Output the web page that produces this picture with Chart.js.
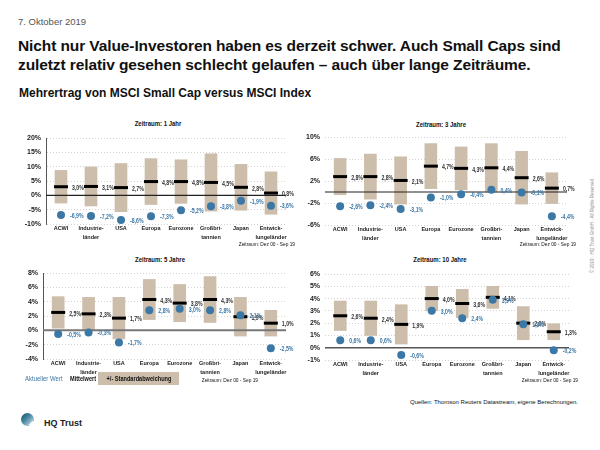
<!DOCTYPE html>
<html>
<head>
<meta charset="utf-8">
<script src="https://cdn.jsdelivr.net/npm/chart.js@4"></script>
<style>
  body { margin: 0; width: 600px; height: 450px; background: #fff; position: relative; overflow: hidden;
         font-family: "Liberation Sans", Arial, sans-serif; color: #111; }
  .t { position: absolute; white-space: nowrap; line-height: 1; }
  .n { transform: scaleX(0.8); transform-origin: left center; }
  .c { transform: translateX(-50%) scaleX(0.8); transform-origin: center center; }
  .r { transform: translateX(-100%) scaleX(0.8); transform-origin: right center; }
  .panel { position: absolute; }
</style>
</head>
<body>
<div class="t" style="left:18px;top:17px;font-size:9.5px;color:#555;">7. Oktober 2019</div>
<div class="t" style="left:18px;top:36px;font-size:15.5px;font-weight:bold;line-height:19px;letter-spacing:-0.1px;">Nicht nur Value-Investoren haben es derzeit schwer. Auch Small Caps sind<br>zuletzt relativ gesehen schlecht gelaufen – auch über lange Zeiträume.</div>
<div class="t" style="left:19px;top:87px;font-size:12px;font-weight:bold;">Mehrertrag von MSCI Small Cap versus MSCI Index</div>

<div class="t c" style="left:158px;top:120px;font-size:7.5px;font-weight:bold;">Zeitraum: 1 Jahr</div>
<div class="t c" style="left:441px;top:121px;font-size:7.5px;font-weight:bold;">Zeitraum: 3 Jahre</div>
<div class="t c" style="left:160px;top:256px;font-size:7.5px;font-weight:bold;">Zeitraum: 5 Jahre</div>
<div class="t c" style="left:440px;top:256px;font-size:7.5px;font-weight:bold;">Zeitraum: 10 Jahre</div>

<div class="panel" style="left:0;top:128px;"><canvas id="p1" width="300" height="120"></canvas></div>
<div class="panel" style="left:300px;top:127px;"><canvas id="p2" width="300" height="122"></canvas></div>
<div class="panel" style="left:0;top:263px;"><canvas id="p3" width="300" height="120"></canvas></div>
<div class="panel" style="left:300px;top:264px;"><canvas id="p4" width="300" height="120"></canvas></div>

<div class="t r" style="left:295px;top:241px;font-size:6px;">Zeitraum: Dez 00 - Sep 19</div>
<div class="t r" style="left:576px;top:241px;font-size:6px;">Zeitraum: Dez 00 - Sep 19</div>
<div class="t r" style="left:258px;top:377px;font-size:6px;">Zeitraum: Dez 00 - Sep 19</div>
<div class="t r" style="left:578px;top:377px;font-size:6px;">Zeitraum: Dez 00 - Sep 19</div>

<div class="t n" style="left:25px;top:375px;font-size:7.5px;color:#3c78a6;">Aktueller Wert</div>
<div class="t n" style="left:70px;top:375px;font-size:7px;font-weight:bold;">Mittelwert</div>
<div style="position:absolute;left:98px;top:372px;width:81px;height:13px;background:#cdbdab;"></div>
<div class="t c" style="left:139px;top:375px;font-size:7px;font-weight:bold;">+/- Standardabweichung</div>

<div class="t" style="left:578px;top:399px;font-size:6px;transform:translateX(-100%);">Quellen: Thomson Reuters Datastream, eigene Berechnungen.</div>

<div style="position:absolute;left:21px;top:413px;width:13px;height:13px;border-radius:50%;background:linear-gradient(135deg,#0d4a66 0%,#4d8aa3 45%,#e8f0f3 100%);"></div>
<div style="position:absolute;left:30px;top:422px;width:5px;height:5px;background:#fff;transform:rotate(45deg);"></div>
<div class="t" style="left:44px;top:419px;font-size:9px;font-weight:bold;color:#222;">HQ Trust</div>

<div class="t" style="left:593px;top:226px;font-size:4.5px;color:#888;transform:translate(-50%,-50%) rotate(-90deg);">© 2019 · HQ Trust GmbH · All Rights Reserved</div>

<script>
const categories = [["ACWI"], ["Industrie-", "länder"], ["USA"], ["Europa"], ["Eurozone"], ["Großbri-", "tannien"], ["Japan"], ["Entwick-", "lungeländer"]];

// Zeitraum 1 Jahr
const mean1 = [3.0, 3.1, 2.7, 4.8, 4.8, 4.5, 2.8, 0.8];
const sd1 = [5.7, 6.8, 8.4, 8.0, 7.6, 10.0, 8.0, 7.4];
const current1 = [-6.9, -7.2, -8.6, -7.3, -5.2, -3.8, -1.9, -3.6];

// Zeitraum 3 Jahre
const mean3 = [2.8, 2.8, 2.1, 4.7, 4.3, 4.4, 2.6, 0.7];
const sd3 = [3.3, 4.1, 4.3, 4.1, 3.9, 4.4, 4.8, 2.8];
const current3 = [-2.6, -2.4, -3.1, -1.0, -0.4, 0.4, -0.1, -4.4];

// Zeitraum 5 Jahre
const mean5 = [2.5, 2.3, 1.7, 4.3, 3.8, 4.3, 1.9, 1.0];
const sd5 = [2.2, 2.3, 2.9, 2.8, 2.6, 3.2, 2.7, 1.8];
const current5 = [-0.5, -0.3, -1.7, 2.8, 3.0, 2.8, 2.1, -2.5];

// Zeitraum 10 Jahre
const mean10 = [2.6, 2.4, 1.9, 4.0, 3.6, 4.1, 2.0, 1.3];
const sd10 = [1.2, 1.4, 1.6, 1.0, 1.15, 0.9, 1.35, 0.65];
const current10 = [0.6, 0.6, -0.6, 3.0, 2.4, 3.9, 1.9, -0.2];

const FONT = "'Liberation Sans', Arial, sans-serif";
const TAN = "#cdbdab";
const BLUE = "#3c78a6";

const fmt = v => (v < 0 ? "-" : "") + Math.abs(v).toFixed(1).replace(".", ",") + "%";

// zero line above the boxes, value labels next to the marks
const panelMarks = {
  id: "panelMarks",
  afterDatasetDraw(chart, args, opts) {
    if (args.meta.type !== "bar") return;
    const { ctx, chartArea, scales } = chart;
    const y0 = scales.y.getPixelForValue(0);
    ctx.save();
    ctx.strokeStyle = opts.zeroColor;
    ctx.lineWidth = opts.zeroWidth;
    ctx.beginPath();
    ctx.moveTo(chartArea.left, y0);
    ctx.lineTo(chartArea.right, y0);
    ctx.stroke();
    ctx.restore();
  },
  afterDatasetsDraw(chart) {
    const ctx = chart.ctx;
    const draw = (txt, x, y, color) => {
      ctx.save();
      ctx.translate(x, y);
      ctx.scale(0.8, 1);
      ctx.fillStyle = color;
      ctx.fillText(txt, 0, 0);
      ctx.restore();
    };
    ctx.save();
    ctx.font = "bold 6.5px " + FONT;
    ctx.textBaseline = "middle";
    ctx.textAlign = "left";
    chart.getDatasetMeta(1).data.forEach((pt, i) => {
      draw(fmt(chart.data.datasets[1].data[i]), pt.x + 11, pt.y + 1.5, "#333");
    });
    chart.getDatasetMeta(2).data.forEach((pt, i) => {
      draw(fmt(chart.data.datasets[2].data[i]), pt.x + 9, pt.y + 1, BLUE);
    });
    ctx.restore();
  }
};

function makePanel(id, means, sds, current, yMin, yMax, yStep, pad, yWidth, leftBorder, zeroColor, zeroWidth) {
  return new Chart(document.getElementById(id), {
    type: "bar",
    data: {
      labels: categories,
      datasets: [
        {
          type: "bar",
          data: means.map((m, i) => [m - sds[i], m + sds[i]]),
          backgroundColor: TAN,
          barThickness: 12,
          order: 3
        },
        {
          type: "line",
          data: means,
          showLine: false,
          pointStyle: "line",
          pointRadius: 7,
          pointBorderWidth: 3,
          pointBorderColor: "#000",
          order: 2
        },
        {
          type: "line",
          data: current,
          showLine: false,
          pointStyle: "circle",
          pointRadius: 4,
          pointBorderWidth: 0,
          pointBackgroundColor: BLUE,
          order: 1
        }
      ]
    },
    options: {
      responsive: false,
      animation: false,
      layout: { padding: pad },
      plugins: {
        legend: { display: false },
        tooltip: { enabled: false },
        panelMarks: { zeroColor, zeroWidth }
      },
      scales: {
        x: {
          offset: true,
          grid: { display: false, drawTicks: false },
          border: { display: false },
          afterFit: s => { s.height = 24; },
          ticks: {
            autoSkip: false,
            maxRotation: 0,
            padding: 0,
            color: "#222",
            font: { family: FONT, size: 5.5, weight: "bold", lineHeight: 1.6 }
          }
        },
        y: {
          min: yMin,
          max: yMax,
          afterFit: s => { s.width = yWidth; },
          grid: {
            drawTicks: false,
            color: c => (c.tick && c.tick.value === 0 ? "rgba(0,0,0,0)" : "#c8c8c8"),
            lineWidth: 0.8
          },
          border: { display: leftBorder, color: "#555", width: 1, dash: [1, 2] },
          ticks: {
            stepSize: yStep,
            padding: 5,
            color: "#222",
            font: { family: FONT, size: 7, weight: "bold" },
            callback: v => v + "%"
          }
        }
      }
    },
    plugins: [panelMarks]
  });
}

makePanel("p1", mean1, sd1, current1, -10, 20, 5, { top: 9, bottom: 0, left: 20, right: 14 }, 26, true, "#222", 1.2);
makePanel("p2", mean3, sd3, current3, -6, 10, 2, { top: 9, bottom: 0, left: 1, right: 33 }, 24, false, "#222", 1.2);
makePanel("p3", mean5, sd5, current5, -4, 8, 2, { top: 9, bottom: 0, left: 17, right: 14 }, 26, true, "#777", 2);
makePanel("p4", mean10, sd10, current10, -1, 6, 1, { top: 9, bottom: 0, left: 1, right: 31 }, 24, false, "#555", 1.5);
</script>
</body>
</html>
